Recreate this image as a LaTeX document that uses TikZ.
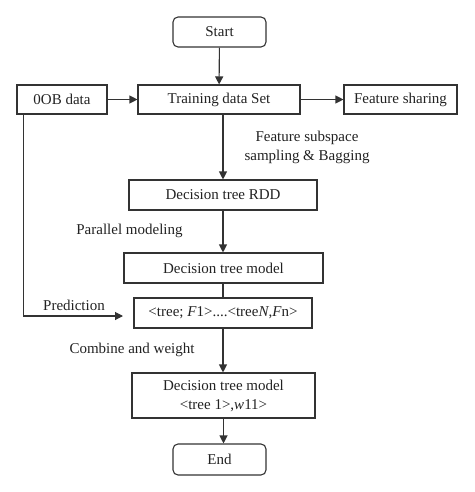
\documentclass[tikz,border=0pt]{standalone}
\usepackage{fontspec}
\setmainfont{Liberation Serif}
\usetikzlibrary{arrows.meta}
\definecolor{linegray}{HTML}{333333}
\definecolor{textgray}{HTML}{222222}
\tikzset{
  box/.style={draw=linegray,line width=1.1pt,rectangle,inner sep=0pt,text=textgray,align=center},
  term/.style={box,rounded corners=5pt},
  lbl/.style={text=textgray,align=center,inner sep=0pt},
  arr/.style={draw=linegray,line width=1.1pt,-{Triangle[length=8pt,width=8pt]}},
  ln/.style={draw=linegray,line width=1.1pt}
}
\begin{document}
\begin{tikzpicture}
            [x=1pt,y=-1pt,font=\fontsize{15}{19}\selectfont]
            \useasboundingbox (0,0) rectangle (474,492);
            \node[term,minimum width=93pt,minimum height=30pt] (start) at (219.5,32) {Start};
            \node[box,minimum width=90pt,minimum height=29pt] (oob) at (62,99.5) {0OB data};
            \node[box,minimum width=162pt,minimum height=29pt] (train) at (219,99.5) {Training data Set};
            \node[box,minimum width=113pt,minimum height=29pt] (share) at (400.5,99.5) {Feature sharing};
            \node[box,minimum width=188pt,minimum height=30pt] (rdd) at (223,195) {Decision tree RDD};
            \node[box,minimum width=199pt,minimum height=30pt] (model) at (223.5,268) {Decision tree model};
            \node[box,minimum width=178pt,minimum height=30pt] (trees) at (223,313) {<tree; \textit{F}1>....<tree\textit{N},\textit{F}n>};
            \node[box,minimum width=183pt,minimum height=45pt] (final) at (223.5,395.5) {Decision tree model\\<tree 1>,\textit{w}11>};
            \node[term,minimum width=93pt,minimum height=31pt] (end) at (219.5,459.5) {End};
            % edge labels
            \node[lbl] (sampling) at (307,147) {Feature subspace\\sampling \& Bagging};
            \node[lbl] (parallel) at (129.5,231) {Parallel modeling};
            \node[lbl] (predict) at (74,305) {Prediction};
            \node[lbl] (combine) at (132,350) {Combine and weight};
            \coordinate (predin) at (123,316);
            % connectors
            \draw[arr] (start) -- (train);
            \draw[arr] (oob) -- (train);
            \draw[arr] (train) -- (share);
            \draw[arr] (train.south -| rdd.north) -- (rdd.north);
            \draw[arr] (rdd.south) -- (rdd.south |- model.north);
            \draw[ln] (model.south -| trees.north) -- (trees.north);
            \draw[arr] (trees.south) -- (trees.south |- final.north);
            \draw[arr] (final.south) -- (final.south |- end.north);
            \draw[arr] ([xshift=7pt]oob.south west) |- (predin);
        \end{tikzpicture}
\end{document}
